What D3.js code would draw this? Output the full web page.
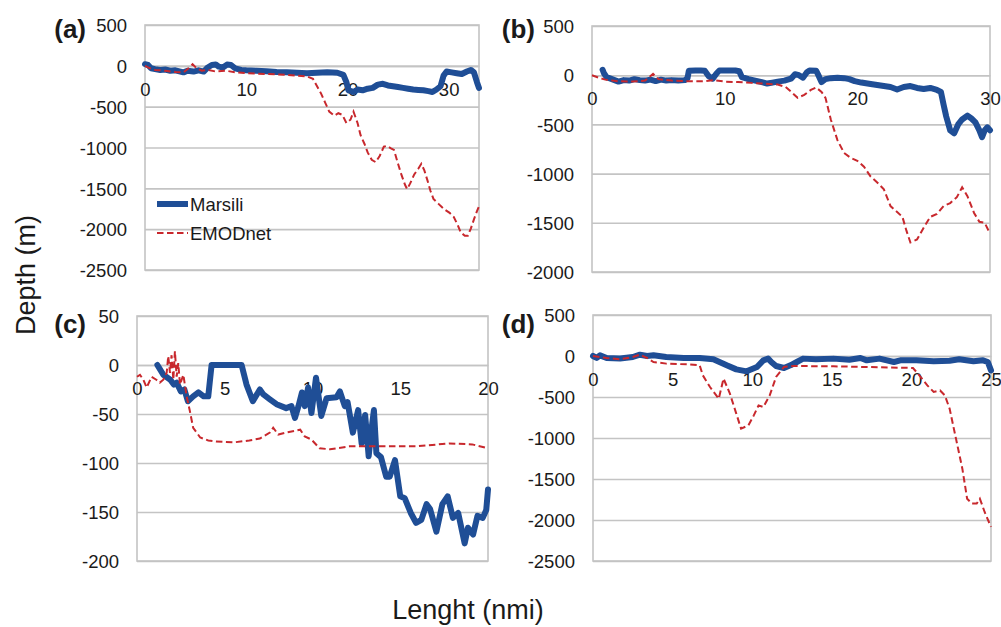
<!DOCTYPE html>
<html><head><meta charset="utf-8">
<script src="https://cdn.jsdelivr.net/npm/d3@7"></script>
<style>
body{margin:0;background:#fff;}
text{font-family:"Liberation Sans",Arial,sans-serif;fill:#1a1a1a;}
</style></head>
<body>
<svg id="chart" width="1001" height="627"></svg>
<script>
// ---------- DATA ----------
const seriesNames = ["Marsili", "EMODnet"];
const panelLabels = ["(a)", "(b)", "(c)", "(d)"];
const yTicksA = [500, 0, -500, -1000, -1500, -2000, -2500];
const yTicksB = [500, 0, -500, -1000, -1500, -2000];
const yTicksC = [50, 0, -50, -100, -150, -200];
const yTicksD = [500, 0, -500, -1000, -1500, -2000, -2500];
const xTicksA = [0, 10, 20, 30];
const xTicksB = [0, 10, 20, 30];
const xTicksC = [0, 5, 10, 15, 20];
const xTicksD = [0, 5, 10, 15, 20, 25];
const xMaxA = 33, xMaxB = 30, xMaxC = 20, xMaxD = 25;

const marsiliA = [[0,20],[0.3,10],[0.6,-30],[1,-40],[1.5,-50],[2,-45],[2.5,-60],[3,-55],[3.5,-70],[3.8,-80],[4.2,-60],[4.8,-70],[5.3,-55],[5.8,-70],[6.2,-20],[6.6,10],[7.0,15],[7.3,-10],[7.7,-20],[8.1,15],[8.5,10],[8.9,-30],[9.5,-50],[10,-55],[11,-60],[12,-65],[13,-75],[14,-80],[15,-85],[16,-90],[17,-85],[18,-80],[19,-85],[19.6,-110],[19.9,-200],[20.1,-300],[20.6,-320],[21,-290],[21.5,-300],[22,-280],[22.5,-270],[23,-230],[23.5,-220],[24,-240],[24.5,-250],[25,-260],[25.5,-270],[26,-280],[26.5,-290],[27,-295],[27.5,-300],[28,-310],[28.4,-320],[28.8,-290],[29.2,-250],[29.5,-120],[29.8,-70],[30.3,-80],[30.8,-90],[31.3,-100],[31.8,-70],[32.2,-50],[32.5,-80],[32.8,-200],[33,-270]];
const emodnetA = [[0,0],[0.5,-30],[1,-50],[2,-60],[3,-75],[3.8,-80],[4.3,-30],[4.7,20],[5.1,-30],[5.6,-60],[6.2,-50],[7,-70],[8,-60],[9,-80],[10,-90],[11,-95],[12,-100],[13,-105],[14,-110],[15,-120],[16,-130],[16.6,-160],[17.0,-250],[17.4,-340],[17.8,-450],[18.2,-560],[18.7,-610],[19.1,-580],[19.5,-600],[19.9,-700],[20.3,-660],[20.6,-560],[21.0,-700],[21.3,-850],[21.7,-960],[22.0,-1060],[22.4,-1150],[22.8,-1180],[23.2,-1100],[23.6,-990],[23.9,-980],[24.3,-1010],[24.6,-1030],[25.0,-1200],[25.3,-1320],[25.7,-1460],[25.9,-1510],[26.2,-1440],[26.6,-1330],[27.0,-1260],[27.3,-1200],[27.6,-1280],[27.9,-1400],[28.2,-1530],[28.5,-1630],[29.0,-1690],[29.6,-1760],[30.1,-1800],[30.5,-1850],[30.9,-1950],[31.2,-2040],[31.6,-2080],[31.9,-2080],[32.2,-1990],[32.5,-1880],[32.8,-1780],[33,-1720]];

const marsiliB = [[0.8,55],[0.9,20],[1.1,-20],[1.5,-40],[2,-65],[2.4,-50],[2.8,-55],[3.2,-40],[3.6,-50],[4,-55],[4.4,-45],[4.8,-60],[5.2,-45],[5.6,-55],[6,-50],[6.5,-55],[7,-50],[7.2,-30],[7.3,45],[7.8,48],[8.2,48],[8.5,45],[8.8,-10],[9.1,-35],[9.4,20],[9.6,48],[10.2,48],[10.8,48],[11.1,40],[11.3,-20],[11.8,-40],[12.3,-55],[12.8,-70],[13.2,-85],[13.6,-75],[14,-65],[14.5,-55],[15,-35],[15.3,10],[15.6,0],[15.9,-25],[16.2,30],[16.4,48],[16.9,45],[17.1,-10],[17.3,-70],[17.6,-40],[18,-30],[18.5,-25],[19,-30],[19.4,-40],[19.8,-60],[20.3,-75],[21,-90],[21.5,-100],[22,-110],[22.5,-120],[23,-145],[23.5,-120],[24,-110],[24.5,-130],[25,-140],[25.5,-130],[26,-150],[26.3,-170],[26.5,-300],[26.7,-420],[27,-560],[27.3,-590],[27.6,-500],[27.9,-450],[28.3,-410],[28.6,-440],[28.9,-480],[29.2,-560],[29.4,-630],[29.6,-560],[29.8,-530],[30,-560]];
const emodnetB = [[0,0],[0.5,-25],[1,-45],[2,-62],[3,-65],[4,-55],[4.6,14],[5,-40],[6,-55],[7,-60],[8,-62],[8.6,-60],[9.2,-50],[10,-65],[11,-70],[12,-78],[13,-85],[14,-95],[14.6,-120],[15,-167],[15.5,-230],[16,-200],[16.5,-150],[16.9,-125],[17.3,-170],[17.6,-230],[18,-450],[18.5,-660],[19,-790],[19.5,-840],[20,-870],[20.5,-930],[21,-1030],[21.5,-1090],[22,-1160],[22.5,-1330],[23,-1390],[23.4,-1440],[23.7,-1580],[24,-1700],[24.5,-1670],[25,-1550],[25.5,-1440],[26,-1410],[26.5,-1330],[27,-1300],[27.5,-1240],[27.9,-1140],[28.3,-1230],[28.8,-1400],[29.2,-1490],[29.6,-1500],[30,-1610]];

const marsiliC = [[1.16,0],[1.5,-10],[1.9,-15],[2.1,-20],[2.26,-18],[2.5,-27],[2.7,-25],[2.9,-37],[3.2,-32],[3.5,-28],[3.8,-32],[4.06,-32],[4.25,0],[5,0],[5.96,0],[6.24,-20],[6.6,-37],[7.0,-25],[7.2,-30],[7.57,-35],[7.95,-40],[8.5,-44],[8.8,-42],[9.0,-54],[9.2,-42],[9.4,-28],[9.56,-42],[9.75,-23],[9.94,-49],[10.2,-13],[10.5,-52],[10.8,-34],[11.37,-33],[11.56,-27],[11.84,-42],[12.0,-38],[12.3,-69],[12.6,-46],[12.8,-80],[13.0,-51],[13.2,-93],[13.36,-66],[13.5,-46],[13.64,-90],[13.9,-94],[14.2,-114],[14.4,-114],[14.7,-97],[15.0,-134],[15.26,-136],[15.6,-151],[15.9,-161],[16.2,-158],[16.5,-142],[16.7,-147],[17.06,-170],[17.4,-142],[17.7,-134],[18.0,-156],[18.3,-151],[18.67,-182],[18.86,-166],[19.15,-173],[19.4,-154],[19.7,-156],[19.9,-148],[20,-127]];
const emodnetC = [[0,-12],[0.17,-10],[0.36,-15],[0.55,-23],[0.83,-12],[1.1,-15],[1.3,-18],[1.5,-15],[1.69,-8],[1.78,9],[1.88,-8],[1.97,10],[2.07,-15],[2.16,14],[2.26,-12],[2.35,2],[2.45,-20],[2.64,-10],[2.83,-32],[3.0,-46],[3.2,-64],[3.6,-74],[4.06,-77],[4.5,-78],[5.5,-79],[6.4,-77],[7.0,-75],[7.57,-69],[7.76,-64],[8.05,-71],[8.5,-69],[9.3,-66],[9.56,-73],[9.94,-76],[10.4,-85],[11.0,-86],[12.1,-83],[14,-83],[15.9,-83],[17.8,-80],[19.1,-81],[20,-85]];

const marsiliD = [[0,0],[0.23,-24],[0.44,8],[0.86,-24],[1.7,-30],[2.5,-12],[2.95,16],[3.4,0],[3.8,8],[4.6,-12],[5.7,-24],[6.7,-24],[7.56,-40],[8.4,-114],[9.0,-163],[9.65,-187],[10.3,-134],[10.7,-53],[11.0,-32],[11.2,-73],[11.5,-122],[12.0,-146],[12.4,-114],[12.8,-73],[13.2,-32],[14,-40],[15.1,-32],[16.1,-45],[16.8,-24],[17.2,-53],[18.0,-32],[18.9,-73],[19.3,-53],[20.3,-53],[21.4,-65],[22.4,-57],[23.0,-40],[23.9,-65],[24.5,-53],[24.8,-73],[25,-175]];
const emodnetD = [[0,0],[0.86,-24],[1.7,-40],[2.5,-12],[2.95,16],[3.4,-24],[3.8,-73],[4.6,-93],[5.9,-102],[6.7,-114],[6.9,-236],[7.35,-378],[7.9,-520],[8.2,-276],[8.6,-459],[9.0,-703],[9.3,-886],[9.76,-846],[10.1,-724],[10.4,-602],[10.7,-622],[11.1,-480],[11.5,-256],[12.0,-134],[12.6,-122],[15.1,-126],[17.2,-134],[20.1,-146],[20.5,-236],[21.0,-358],[21.4,-439],[21.8,-420],[22.1,-480],[22.4,-642],[22.8,-1008],[23.2,-1374],[23.5,-1740],[23.8,-1800],[24.1,-1800],[24.3,-1740],[24.6,-1902],[25,-2085]];

// ---------- LAYOUT ----------
const panels = [
  {label: panelLabels[0], box:[145,25,479,270], yTicks:yTicksA, xTicks:xTicksA, xMax:xMaxA, m:marsiliA, e:emodnetA, legend:true},
  {label: panelLabels[1], box:[592,26,990,272], yTicks:yTicksB, xTicks:xTicksB, xMax:xMaxB, m:marsiliB, e:emodnetB},
  {label: panelLabels[2], box:[137,316,488,561], yTicks:yTicksC, xTicks:xTicksC, xMax:xMaxC, m:marsiliC, e:emodnetC},
  {label: panelLabels[3], box:[593,315,991,561], yTicks:yTicksD, xTicks:xTicksD, xMax:xMaxD, m:marsiliD, e:emodnetD}
];
const blue = "#1F4E96", red = "#C8282D", grid = "#C4C4C4";
const dash = "6.5,3.5";
const fmt = d => String(d);
const svg = d3.select("#chart");

panels.forEach((p, i) => {
  const [x0, y0, x1, y1] = p.box;
  const x = d3.scaleLinear().domain([0, p.xMax]).range([x0, x1]);
  const yt = p.yTicks;
  const y = d3.scaleLinear().domain([yt[yt.length-1], yt[0]]).range([y1, y0]);
  const g = svg.append("g");

  // grid + y labels
  const ya = d3.axisLeft(y).tickValues(yt).tickSize(-(x1 - x0)).tickPadding(18).tickFormat(fmt);
  const gy = g.append("g").attr("transform", `translate(${x0},0)`).call(ya);
  gy.select(".domain").remove();
  gy.selectAll(".tick line").attr("stroke", grid).attr("stroke-width", 1.6);
  gy.selectAll(".tick text").attr("font-size", 18.5).attr("fill", "#1a1a1a")
    .attr("font-family", '"Liberation Sans", Arial, sans-serif').attr("dy", "0.36em");
  g.append("rect").attr("x", x0).attr("y", y0).attr("width", x1 - x0).attr("height", y1 - y0)
    .attr("fill", "none").attr("stroke", grid).attr("stroke-width", 1.6);

  // x labels at y = 0
  const xa = d3.axisBottom(x).tickValues(p.xTicks).tickSize(0).tickPadding(0).tickFormat(fmt);
  const gx = g.append("g").attr("transform", `translate(0,${y(0)})`).call(xa);
  gx.select(".domain").attr("stroke", grid).attr("stroke-width", 1.6);
  gx.selectAll(".tick text").attr("font-size", 18.5).attr("fill", "#1a1a1a")
    .attr("font-family", '"Liberation Sans", Arial, sans-serif').attr("y", 30).attr("dy", 0);

  const line = d3.line().x(d => x(d[0])).y(d => y(d[1]));
  g.append("path").datum(p.m).attr("d", line).attr("fill", "none")
    .attr("stroke", blue).attr("stroke-width", 6).attr("stroke-linejoin", "round").attr("stroke-linecap", "round");
  g.append("path").datum(p.e).attr("d", line).attr("fill", "none")
    .attr("stroke", red).attr("stroke-width", 2).attr("stroke-dasharray", dash);

  // panel label
  g.append("text").attr("x", i % 2 === 0 ? 86 : 535).attr("y", i < 2 ? 38 : 333)
    .attr("text-anchor", "end").attr("font-size", 26).attr("font-weight", "bold").text(p.label);

  if (p.legend) {
    const lg = g.append("g");
    lg.append("line").attr("x1", 157).attr("x2", 188).attr("y1", 204).attr("y2", 204)
      .attr("stroke", blue).attr("stroke-width", 6);
    lg.append("text").attr("x", 190).attr("y", 211).attr("font-size", 18.5).text(seriesNames[0]);
    lg.append("line").attr("x1", 157).attr("x2", 188).attr("y1", 233).attr("y2", 233)
      .attr("stroke", red).attr("stroke-width", 2).attr("stroke-dasharray", dash);
    lg.append("text").attr("x", 190).attr("y", 240).attr("font-size", 18.5).text(seriesNames[1]);
  }
});

svg.append("text").attr("transform", "translate(35,275) rotate(-90)").attr("text-anchor", "middle")
  .attr("font-size", 27).text("Depth (m)");
svg.append("text").attr("x", 468).attr("y", 619).attr("text-anchor", "middle")
  .attr("font-size", 27).text("Lenght (nmi)");
</script>
</body></html>
